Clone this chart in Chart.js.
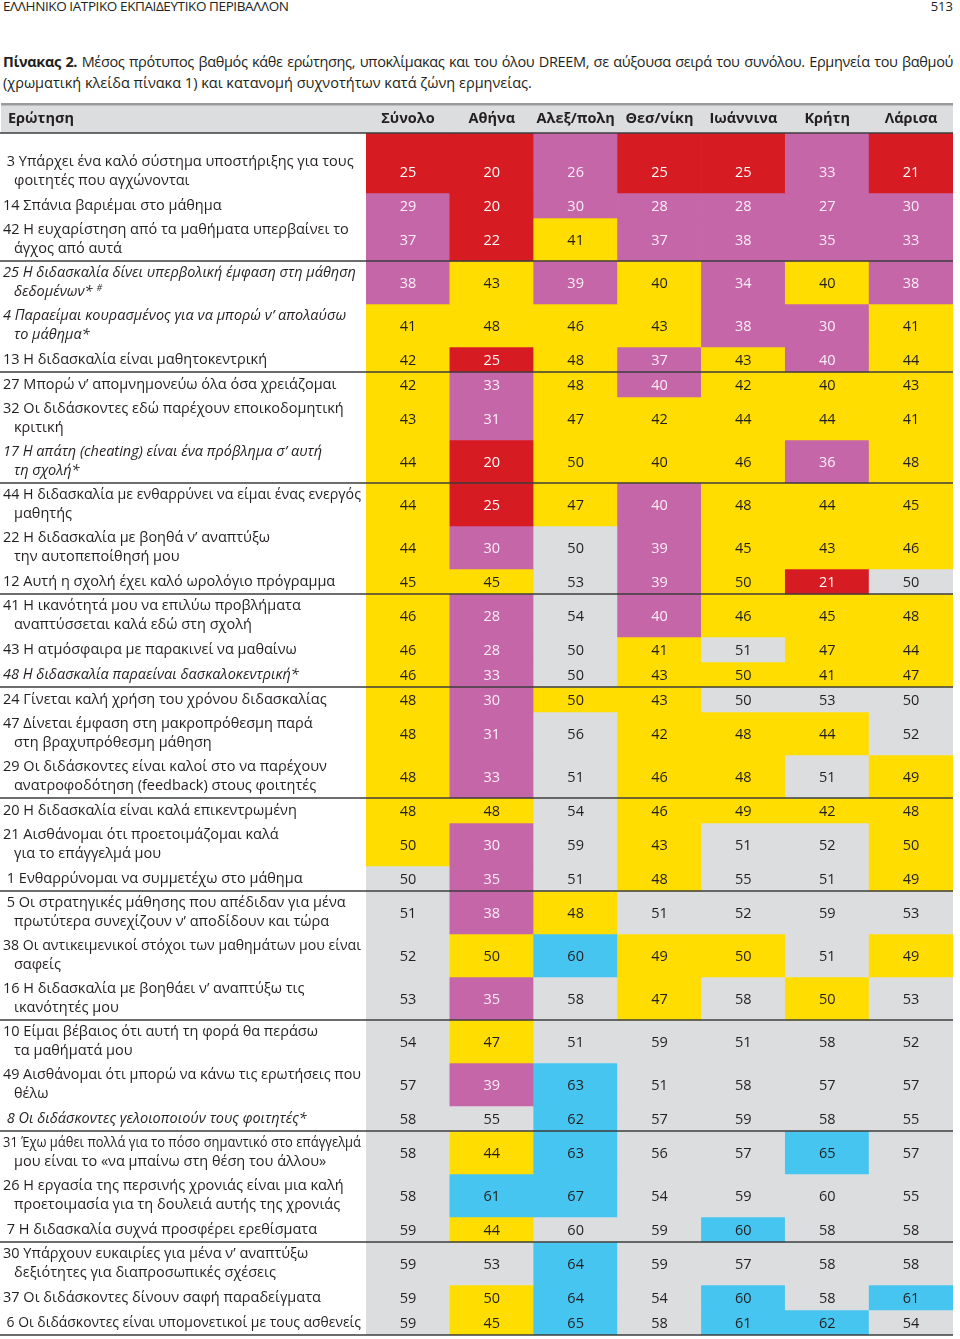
<!DOCTYPE html>
<html lang="el">
<head>
  <meta charset="UTF-8">
  <title>Πίνακας 2 - DREEM</title>
  <script src="https://cdn.jsdelivr.net/npm/chart.js"></script>
  <style>
    body { margin: 0; width: 960px; height: 1339px; overflow: hidden; position: relative; background: #fff; color: #231f20; font-family: "Open Sans", sans-serif; }
    .running { position: absolute; top: -3px; left: 3px; font-size: 13.5px; letter-spacing: -0.4px; }
    .pageno { position: absolute; top: -3px; right: 7px; font-size: 13px; }
    .caption { position: absolute; top: 51px; left: 3px; width: 950px; font-size: 14.5px; line-height: 21px; }
    .caption .l1 { text-align: justify; text-align-last: justify; white-space: nowrap; letter-spacing: -0.35px; }
    #wrap { position: absolute; top: 101px; left: 0; }
  </style>
</head>
<body>
  <div class="running">ΕΛΛΗΝΙΚΟ ΙΑΤΡΙΚΟ ΕΚΠΑΙΔΕΥΤΙΚΟ ΠΕΡΙΒΑΛΛΟΝ</div>
  <div class="pageno">513</div>
  <div class="caption">
    <div class="l1"><b>Πίνακας 2.</b> Μέσος πρότυπος βαθμός κάθε ερώτησης, υποκλίμακας και του όλου DREEM, σε αύξουσα σειρά του συνόλου. Ερμηνεία του βαθμού</div>
    <div>(χρωματική κλείδα πίνακα 1) και κατανομή συχνοτήτων κατά ζώνη ερμηνείας.</div>
  </div>
  <div id="wrap"><canvas id="table" width="960" height="1238"></canvas></div>

  <script>
    // στήλες
    const columns = ['Σύνολο', 'Αθήνα', 'Αλεξ/πολη', 'Θεσ/νίκη', 'Ιωάννινα', 'Κρήτη', 'Λάρισα'];

    // ερωτήσεις (μία ή δύο γραμμές), με τη σειρά του πίνακα
    const questions = [
      [' 3 Υπάρχει ένα καλό σύστημα υποστήριξης για τους', 'φοιτητές που αγχώνονται'],
      ['14 Σπάνια βαριέμαι στο μάθημα'],
      ['42 Η ευχαρίστηση από τα μαθήματα υπερβαίνει το', 'άγχος από αυτά'],
      ['25 Η διδασκαλία δίνει υπερβολική έμφαση στη μάθηση', 'δεδομένων* #'],
      ['4 Παραείμαι κουρασμένος για να μπορώ ν’ απολαύσω', 'το μάθημα*'],
      ['13 Η διδασκαλία είναι μαθητοκεντρική'],
      ['27 Μπορώ ν’ απομνημονεύω όλα όσα χρειάζομαι'],
      ['32 Οι διδάσκοντες εδώ παρέχουν εποικοδομητική', 'κριτική'],
      ['17 Η απάτη (cheating) είναι ένα πρόβλημα σ’ αυτή', 'τη σχολή*'],
      ['44 Η διδασκαλία με ενθαρρύνει να είμαι ένας ενεργός', 'μαθητής'],
      ['22 Η διδασκαλία με βοηθά ν’ αναπτύξω', 'την αυτοπεποίθησή μου'],
      ['12 Αυτή η σχολή έχει καλό ωρολόγιο πρόγραμμα'],
      ['41 Η ικανότητά μου να επιλύω προβλήματα', 'αναπτύσσεται καλά εδώ στη σχολή'],
      ['43 Η ατμόσφαιρα με παρακινεί να μαθαίνω'],
      ['48 Η διδασκαλία παραείναι δασκαλοκεντρική*'],
      ['24 Γίνεται καλή χρήση του χρόνου διδασκαλίας'],
      ['47 Δίνεται έμφαση στη μακροπρόθεσμη παρά', 'στη βραχυπρόθεσμη μάθηση'],
      ['29 Οι διδάσκοντες είναι καλοί στο να παρέχουν', 'ανατροφοδότηση (feedback) στους φοιτητές'],
      ['20 Η διδασκαλία είναι καλά επικεντρωμένη'],
      ['21 Αισθάνομαι ότι προετοιμάζομαι καλά', 'για το επάγγελμά μου'],
      [' 1 Ενθαρρύνομαι να συμμετέχω στο μάθημα'],
      [' 5 Οι στρατηγικές μάθησης που απέδιδαν για μένα', 'πρωτύτερα συνεχίζουν ν’ αποδίδουν και τώρα'],
      ['38 Οι αντικειμενικοί στόχοι των μαθημάτων μου είναι', 'σαφείς'],
      ['16 Η διδασκαλία με βοηθάει ν’ αναπτύξω τις', 'ικανότητές μου'],
      ['10 Είμαι βέβαιος ότι αυτή τη φορά θα περάσω', 'τα μαθήματά μου'],
      ['49 Αισθάνομαι ότι μπορώ να κάνω τις ερωτήσεις που', 'θέλω'],
      [' 8 Οι διδάσκοντες γελοιοποιούν τους φοιτητές*'],
      ['31 Έχω μάθει πολλά για το πόσο σημαντικό στο επάγγελμά', 'μου είναι το «να μπαίνω στη θέση του άλλου»'],
      ['26 Η εργασία της περσινής χρονιάς είναι μια καλή', 'προετοιμασία για τη δουλειά αυτής της χρονιάς'],
      [' 7 Η διδασκαλία συχνά προσφέρει ερεθίσματα'],
      ['30 Υπάρχουν ευκαιρίες για μένα ν’ αναπτύξω', 'δεξιότητες για διαπροσωπικές σχέσεις'],
      ['37 Οι διδάσκοντες δίνουν σαφή παραδείγματα'],
      [' 6 Οι διδάσκοντες είναι υπομονετικοί με τους ασθενείς']
    ];

    // βαθμοί ανά στήλη
    const synolo = [25, 29, 37, 38, 41, 42, 42, 43, 44, 44, 44, 45, 46, 46, 46, 48, 48, 48, 48, 50, 50, 51, 52, 53, 54, 57, 58, 58, 58, 59, 59, 59, 59];
    const athina = [20, 20, 22, 43, 48, 25, 33, 31, 20, 25, 30, 45, 28, 28, 33, 30, 31, 33, 48, 30, 35, 38, 50, 35, 47, 39, 55, 44, 61, 44, 53, 50, 45];
    const alexpoli = [26, 30, 41, 39, 46, 48, 48, 47, 50, 47, 50, 53, 54, 50, 50, 50, 56, 51, 54, 59, 51, 48, 60, 58, 51, 63, 62, 63, 67, 60, 64, 64, 65];
    const thessaloniki = [25, 28, 37, 40, 43, 37, 40, 42, 40, 40, 39, 39, 40, 41, 43, 43, 42, 46, 46, 43, 48, 51, 49, 47, 59, 51, 57, 56, 54, 59, 59, 54, 58];
    const ioannina = [25, 28, 38, 34, 38, 43, 42, 44, 46, 48, 45, 50, 46, 51, 50, 50, 48, 48, 49, 51, 55, 52, 50, 58, 51, 58, 59, 57, 59, 60, 57, 60, 61];
    const kriti = [33, 27, 35, 40, 30, 40, 40, 44, 36, 44, 43, 21, 45, 47, 41, 53, 44, 51, 42, 52, 51, 59, 51, 50, 58, 57, 58, 65, 60, 58, 58, 58, 62];
    const larisa = [21, 30, 33, 38, 41, 44, 43, 41, 48, 45, 46, 50, 48, 44, 47, 50, 52, 49, 48, 50, 49, 53, 49, 53, 52, 57, 55, 57, 55, 58, 58, 61, 54];

    // ζώνη ερμηνείας κάθε κελιού (R κόκκινο, P ματζέντα, Y κίτρινο, G γκρι, B γαλάζιο)
    const zSynolo = 'RPP PYY YYY YYY YYY YYY YYG GGG GGG GGG GGG';
    const zAthina = 'RRR YYR PPR RPY PPP PPP YPP PYP YPG YBY GYY';
    const zAlexpoli = 'PPY PYY YYY YGG GGG YGG GGG YBG GBB BBG BBB';
    const zThessaloniki = 'RPP YYP PYY PPP PYY YYY YYY GYY GGG GGG GGG';
    const zIoannina = 'RPP PPY YYY YYY YGY GYY YGG GYG GGG GGB GBB';
    const zKriti = 'PPP YPP YYP YYR YYY GYG YGG GGY GGG BGG GGB';
    const zLarisa = 'RPP PYY YYY YYG YYY GGY YYY GYG GGG GGG GBG';

    const values = [synolo, athina, alexpoli, thessaloniki, ioannina, kriti, larisa];
    const zones = [zSynolo, zAthina, zAlexpoli, zThessaloniki, zIoannina, zKriti, zLarisa].map(z => z.replace(/ /g, ''));

    const zoneColour = { R: '#d71b23', P: '#c566a8', Y: '#ffdd00', G: '#dcdddf', B: '#46c5f1' };
    const zoneText = { R: '#ffffff', P: '#fbeef6', Y: '#231f20', G: '#231f20', B: '#231f20' };

    // ύψη γραμμών σε px (1 μονάδα = 1px)
    const ONE_LINE = 25, TWO_LINES = 43, FIRST_PAD = 17, HEAD = 32;
    const rowTop = [], rowBottom = [], rowMid = [];
    let acc = 0;
    questions.forEach((q, r) => {
      const pad = r === 0 ? FIRST_PAD : 0;
      const h = (q.length > 1 ? TWO_LINES : ONE_LINE) + pad;
      rowTop.push(acc);
      rowMid.push(acc + pad + (h - pad) / 2);
      acc += h;
      rowBottom.push(acc);
    });
    const total = acc;

    const datasets = questions.map((q, r) => ({
      label: q[0],
      data: columns.map(() => [rowTop[r], rowBottom[r]]),
      backgroundColor: zones.map(z => zoneColour[z[r]]),
      borderWidth: 0,
      grouped: false,
      barPercentage: 1,
      categoryPercentage: 1
    }));

    const FONT = '"Open Sans", sans-serif';

    const tablePlugin = {
      id: 'tableText',
      beforeDatasetsDraw(chart) {
        const { ctx, chartArea: a } = chart;
        ctx.save();
        ctx.fillStyle = '#dcdddf';
        ctx.fillRect(1, 3, a.right - 1, a.top - 3);
        ctx.fillStyle = '#9b9b9b';
        ctx.fillRect(1, 2, a.right - 1, 2.5);
        ctx.restore();
      },
      afterDatasetsDraw(chart) {
        const { ctx, chartArea: a, scales: { x, y } } = chart;
        ctx.save();
        ctx.textBaseline = 'middle';

        // κεφαλίδα
        ctx.fillStyle = '#231f20';
        ctx.font = 'bold 14.5px ' + FONT;
        ctx.textAlign = 'left';
        ctx.fillText('Ερώτηση', 8, a.top - 14);
        ctx.textAlign = 'center';
        columns.forEach((c, i) => ctx.fillText(c, x.getPixelForValue(i), a.top - 14));

        // τιμές κελιών
        ctx.font = '14.5px ' + FONT;
        values.forEach((col, i) => {
          const cx = x.getPixelForValue(i);
          col.forEach((v, r) => {
            ctx.fillStyle = zoneText[zones[i][r]];
            ctx.fillText(String(v), cx, y.getPixelForValue(rowMid[r]) + 1);
          });
        });

        // ερωτήσεις
        ctx.textAlign = 'left';
        ctx.fillStyle = '#231f20';
        questions.forEach((q, r) => {
          const style = q.join(' ').includes('*') ? 'italic ' : '';
          const mid = y.getPixelForValue(rowMid[r]);
          q.forEach((line, i) => {
            const ly = q.length > 1 ? mid + (i === 0 ? -9.5 : 9.5) : mid;
            const lx = i === 0 ? 3 : 14;
            ctx.font = style + '14.5px ' + FONT;
            if (line.endsWith(' #')) {
              const main = line.slice(0, -2);
              ctx.fillText(main, lx, ly);
              const w = ctx.measureText(main).width;
              ctx.font = style + '9px ' + FONT;
              ctx.fillText('#', lx + w + 4, ly - 4);
            } else {
              ctx.fillText(line, lx, ly, a.left - lx - 5);
            }
          });
        });

        // διαχωριστικές γραμμές ανά τριάδα
        ctx.strokeStyle = '#3d3d3d';
        ctx.lineWidth = 1.6;
        const hline = py => {
          ctx.beginPath();
          ctx.moveTo(0, py);
          ctx.lineTo(a.right, py);
          ctx.stroke();
        };
        hline(a.top);
        rowBottom.forEach((b, r) => {
          if (r % 3 === 2) hline(y.getPixelForValue(b));
        });
        ctx.restore();
      }
    };

    const canvas = document.getElementById('table');
    new Chart(canvas, {
      type: 'bar',
      data: { labels: columns, datasets: datasets },
      options: {
        responsive: false,
        animation: false,
        events: [],
        layout: { padding: { top: HEAD, left: 366, right: 7, bottom: canvas.height - HEAD - total } },
        scales: {
          x: { display: false, offset: true, grid: { display: false } },
          y: { display: false, min: 0, max: total, reverse: true }
        },
        plugins: { legend: { display: false }, tooltip: { enabled: false } }
      },
      plugins: [tablePlugin]
    });
  </script>
</body>
</html>
